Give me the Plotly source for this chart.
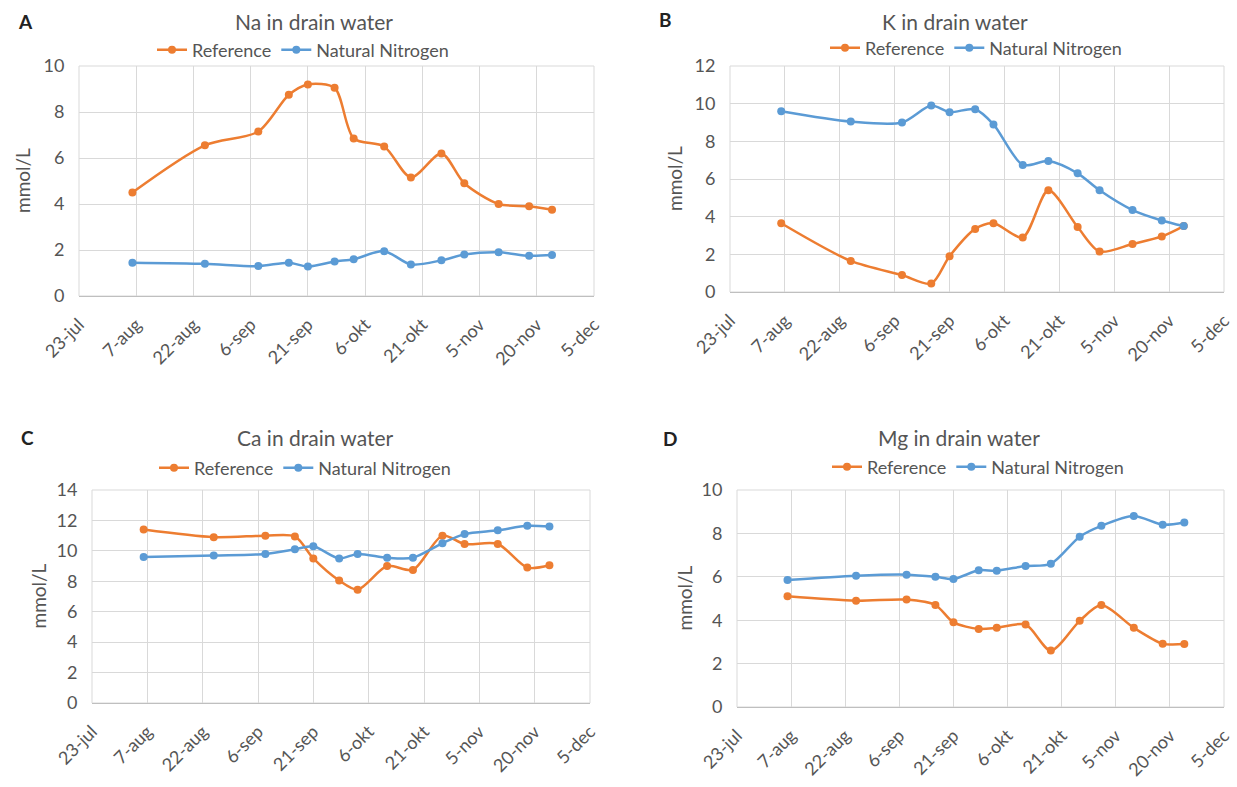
import plotly.graph_objects as go

# Sampling dates (same for every ion and treatment)
dates = ["2017-08-06", "2017-08-25", "2017-09-08", "2017-09-16", "2017-09-21",
         "2017-09-28", "2017-10-03", "2017-10-11", "2017-10-18", "2017-10-26",
         "2017-11-01", "2017-11-10", "2017-11-18", "2017-11-24"]

# Concentrations in drain water, mmol/L
na_reference = [4.5, 6.55, 7.15, 8.75, 9.2, 9.05, 6.85, 6.5, 5.15, 6.2, 4.9, 4.0, 3.9, 3.75]
na_natural_n = [1.45, 1.4, 1.3, 1.45, 1.28, 1.5, 1.6, 1.95, 1.37, 1.55, 1.8, 1.9, 1.75, 1.78]
k_reference = [3.65, 1.65, 0.9, 0.45, 1.9, 3.35, 3.65, 2.9, 5.4, 3.45, 2.15, 2.55, 2.95, 3.5]
k_natural_n = [9.6, 9.05, 9.0, 9.9, 9.55, 9.7, 8.9, 6.75, 6.95, 6.3, 5.4, 4.35, 3.8, 3.5]
ca_reference = [11.4, 10.9, 11.0, 10.95, 9.5, 8.05, 7.45, 9.0, 8.75, 11.0, 10.45, 10.45, 8.9, 9.05]
ca_natural_n = [9.6, 9.7, 9.8, 10.1, 10.3, 9.5, 9.8, 9.55, 9.55, 10.5, 11.1, 11.35, 11.65, 11.6]
mg_reference = [5.1, 4.9, 4.95, 4.7, 3.9, 3.6, 3.65, 3.8, 2.6, 3.97, 4.7, 3.65, 2.92, 2.9]
mg_natural_n = [5.85, 6.05, 6.1, 6.0, 5.9, 6.3, 6.28, 6.5, 6.6, 7.85, 8.35, 8.8, 8.4, 8.5]

# Date axis ticks (every 15 days)
tick_dates = ["2017-07-23", "2017-08-07", "2017-08-22", "2017-09-06", "2017-09-21",
              "2017-10-06", "2017-10-21", "2017-11-05", "2017-11-20", "2017-12-05"]
tick_labels = ["23-jul", "7-aug", "22-aug", "6-sep", "21-sep",
               "6-okt", "21-okt", "5-nov", "20-nov", "5-dec"]
# tiny padding so the end ticks are never dropped by rounding
x_range = ["2017-07-22 23:58", "2017-12-05 00:02"]

series_names = ["Reference", "Natural Nitrogen"]
titles = ["Na in drain water", "K in drain water", "Ca in drain water", "Mg in drain water"]
letters = ["A", "B", "C", "D"]
y_max = [10, 12, 14, 10]

ORANGE = "#ED7D31"
BLUE = "#5B9BD5"
GRID = "#D9D9D9"
TEXT = "#555555"
FONT = "Lato"

W, H = 1237, 787

# Plot areas in pixels: (left, right, top, bottom)
boxes = [(79, 594, 66, 296), (730, 1224, 66, 292),
         (92, 590, 490, 703), (737, 1224, 490, 707)]
title_pos = [(314, 22), (955, 21), (315, 437), (959, 437)]
legend_left = [(152, 50), (825, 48), (154, 468), (827, 467)]
letter_pos = [(25, 22), (665, 20), (28, 437), (670, 438)]
ytitle_x = [22, 674, 38, 684]

panels = [(na_reference, na_natural_n), (k_reference, k_natural_n),
          (ca_reference, ca_natural_n), (mg_reference, mg_natural_n)]

fig = go.Figure()
layout = dict(
    width=W, height=H, margin=dict(l=0, r=0, t=0, b=0, autoexpand=False),
    paper_bgcolor="white", plot_bgcolor="white",
    font=dict(family=FONT, color=TEXT, size=15),
    showlegend=True,
)
annotations = []
shapes = []

for i, (ref_vals, nn_vals) in enumerate(panels):
    n = "" if i == 0 else str(i + 1)
    xa, ya = "x" + n, "y" + n
    leg = "legend" if i == 0 else "legend" + str(i + 1)
    l, r, t, b = boxes[i]
    for name, vals, color in [(series_names[0], ref_vals, ORANGE),
                              (series_names[1], nn_vals, BLUE)]:
        fig.add_trace(go.Scatter(
            x=dates, y=vals, name=name, mode="lines+markers",
            line=dict(color=color, width=2.5, shape="spline", smoothing=0.8),
            marker=dict(color=color, size=8, symbol="circle"),
            xaxis=xa, yaxis=ya, legend=leg,
        ))
    layout["xaxis" + n] = dict(
        domain=[l / W, r / W], anchor=ya, type="date", automargin=False,
        range=x_range,
        tickmode="array", tickvals=tick_dates, ticktext=tick_labels,
        tickangle=-45, ticklabeloverflow="allow",
        showgrid=True, gridcolor=GRID, gridwidth=1,
        showline=True, linecolor="#BFBFBF", linewidth=1.2,
        ticks="outside", ticklen=10, tickcolor="rgba(0,0,0,0)",
        tickfont=dict(size=18, color=TEXT, family=FONT),
        zeroline=False, fixedrange=True,
    )
    layout["yaxis" + n] = dict(
        domain=[1 - b / H, 1 - t / H], anchor=xa, automargin=False,
        range=[0, y_max[i]], tickmode="linear", tick0=0, dtick=2,
        showgrid=True, gridcolor=GRID, gridwidth=1, zeroline=False,
        showline=False, ticks="outside", ticklen=10, tickcolor="rgba(0,0,0,0)",
        tickfont=dict(size=18, color=TEXT, family=FONT), fixedrange=True,
    )
    # light frame around the plot area
    shapes.append(dict(type="rect", xref=xa + " domain", yref=ya + " domain",
                       x0=0, x1=1, y0=0, y1=1, layer="below",
                       line=dict(color=GRID, width=1)))
    lx, ly = legend_left[i]
    layout[leg] = dict(
        orientation="h", x=lx / W, y=1 - ly / H, xanchor="left", yanchor="middle",
        font=dict(size=18, color=TEXT, family=FONT), bgcolor="rgba(0,0,0,0)",
        itemwidth=30, tracegroupgap=0,
    )
    tx, ty = title_pos[i]
    annotations.append(dict(text=titles[i], x=tx / W, y=1 - ty / H, xref="paper", yref="paper",
                            showarrow=False, xanchor="center", yanchor="middle",
                            font=dict(size=21, color=TEXT, family=FONT)))
    px, py = letter_pos[i]
    annotations.append(dict(text="<b>" + letters[i] + "</b>", x=px / W, y=1 - py / H,
                            xref="paper", yref="paper", showarrow=False,
                            xanchor="center", yanchor="middle",
                            font=dict(size=19, color="#222222", family=FONT)))
    annotations.append(dict(text="mmol/L", x=ytitle_x[i] / W, y=1 - ((t + b) / 2) / H,
                            xref="paper", yref="paper", showarrow=False, textangle=-90,
                            xanchor="center", yanchor="middle",
                            font=dict(size=19, color=TEXT, family=FONT)))

layout["annotations"] = annotations
layout["shapes"] = shapes
fig.update_layout(**layout)

fig.write_html("out.html")
